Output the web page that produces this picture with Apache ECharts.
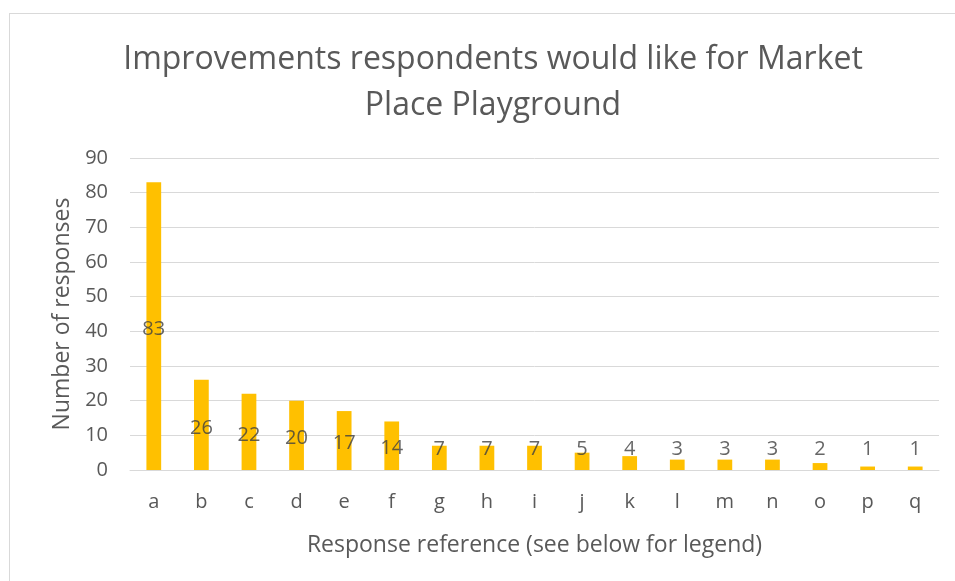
<!DOCTYPE html>
<html lang="en">
<head>
  <meta charset="UTF-8">
  <title>Market Place Playground</title>
  <script src="https://cdn.jsdelivr.net/npm/echarts@6/dist/echarts.min.js"></script>
  <style>
    body { margin: 0; background: #fff; }
    #frame { position: absolute; left: 9px; top: 13px; width: 960px; height: 600px; border: 1px solid #d9d9d9; }
    #chart { position: absolute; left: 0; top: 0; width: 955px; height: 581px; }
  </style>
</head>
<body>
  <div id="frame"></div>
  <div id="chart"></div>
  <script>
    // data
    var categories = ['a', 'b', 'c', 'd', 'e', 'f', 'g', 'h', 'i', 'j', 'k', 'l', 'm', 'n', 'o', 'p', 'q']
    var responses = [83, 26, 22, 20, 17, 14, 7, 7, 7, 5, 4, 3, 3, 3, 2, 1, 1]
    var yTicks = { min: 0, max: 90, interval: 10 }

    // Excel puts the label in the middle of the bar, but won't let it drop below ~6.9
    var labelFloor = 6.9
    var labelPoints = responses.map(function (v, i) {
      return { value: [categories[i], Math.max(v / 2, labelFloor)], shown: v }
    })

    var font = 'Open Sans'
    var grey = '#595959'
    var chart = echarts.init(document.getElementById('chart'))
    chart.setOption({
      animation: false,
      textStyle: { fontFamily: font },
      title: {
        text: 'Improvements respondents would like for Market\nPlace Playground',
        left: 488, top: 32, textAlign: 'center',
        textStyle: { fontFamily: font, fontWeight: 'normal', fontSize: 32, color: grey, lineHeight: 46 }
      },
      grid: { left: 130, right: 16, top: 158, bottom: 111 },
      xAxis: {
        type: 'category',
        data: categories,
        name: 'Response reference (see below for legend)',
        nameLocation: 'middle', nameGap: 64,
        nameTextStyle: { fontSize: 23, color: grey },
        axisLine: { lineStyle: { color: '#d9d9d9', width: 1 } },
        axisTick: { show: false },
        axisLabel: { fontSize: 20, color: grey, margin: 22 }
      },
      yAxis: {
        type: 'value',
        min: yTicks.min, max: yTicks.max, interval: yTicks.interval,
        name: 'Number of responses',
        nameLocation: 'middle', nameGap: 55,
        nameTextStyle: { fontSize: 23, color: grey },
        axisLabel: { fontSize: 20, color: grey, margin: 22 },
        splitLine: { lineStyle: { color: '#d9d9d9', width: 1 } }
      },
      series: [
        {
          type: 'bar',
          data: responses,
          barWidth: '31%',
          itemStyle: { color: '#ffc000' }
        },
        {
          type: 'scatter',
          data: labelPoints,
          symbolSize: 0,
          silent: true,
          label: {
            show: true, position: 'inside', offset: [0, 3],
            fontSize: 20, color: '#404040',
            formatter: function (p) { return p.data.shown }
          }
        }
      ]
    })
  </script>
</body>
</html>
